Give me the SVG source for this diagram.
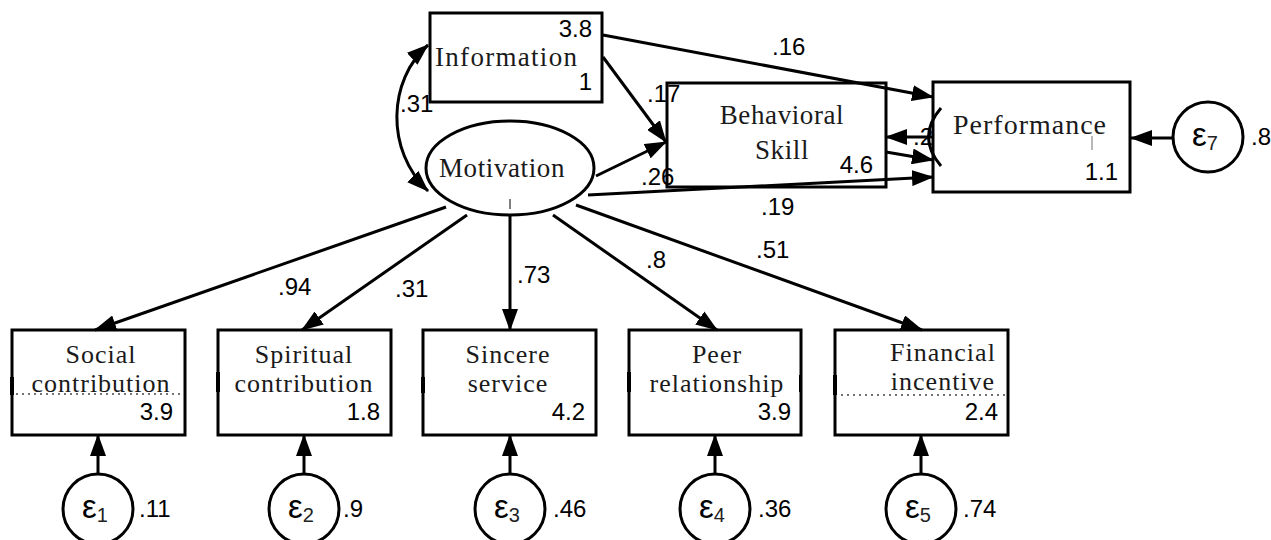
<svg xmlns="http://www.w3.org/2000/svg" width="1271" height="540" viewBox="0 0 1271 540">
<style>
.box{fill:#fff;stroke:#000;stroke-width:3}
.lat{fill:#fff;stroke:#000;stroke-width:3}
.nm{font-family:"Liberation Serif","Times New Roman",serif;font-size:27px;letter-spacing:0.6px;fill:#1a1a1a}
.sm{font-size:26px;letter-spacing:1px}
.big{font-size:28px;letter-spacing:1px}
.num{font-family:"Liberation Sans",Arial,sans-serif;font-size:24px;fill:#000}
.eps{font-family:"Liberation Sans",Arial,sans-serif;font-size:33px;fill:#000}
.sub{font-size:20px;fill:#222}
.ln{stroke:#000;stroke-width:3;fill:none}
.dot{stroke:#444;stroke-width:1.5;stroke-dasharray:2 4;fill:none}
.mk{fill:#000}
</style>
<defs>
<marker id="ah" markerUnits="userSpaceOnUse" markerWidth="22" markerHeight="16" refX="21" refY="8" orient="auto-start-reverse" viewBox="0 0 22 16">
<path d="M0,0 L22,8 L0,16 z" fill="#000"/>
</marker>
</defs>

<g id="information">
<rect class="box" x="430" y="13" width="172" height="89"/>
<text class="nm" x="435" y="66" style="font-size:27px;letter-spacing:1.3px">Information</text>
<text class="num" x="592" y="37" text-anchor="end">3.8</text>
<text class="num" x="592" y="90" text-anchor="end">1</text>
</g>

<g id="motivation">
<ellipse class="lat" cx="510" cy="168" rx="84" ry="47"/>
<text class="nm" x="502" y="177" text-anchor="middle">Motivation</text>
<line x1="510" y1="199" x2="510" y2="209" stroke="#555" stroke-width="1.5"/>
</g>

<g id="behavioral-skill">
<rect class="box" x="667" y="83" width="219" height="104"/>
<text class="nm" x="782" y="124" text-anchor="middle">Behavioral</text>
<text class="nm" x="782" y="159" text-anchor="middle">Skill</text>
<text class="num" x="873" y="173" text-anchor="end">4.6</text>
</g>

<g id="performance">
<text class="num" x="913" y="145">.26</text>
<rect class="box" x="933" y="82" width="197" height="110"/>
<text class="nm big" x="953" y="134">Performance</text>
<line x1="1092" y1="136" x2="1092" y2="150" stroke="#888" stroke-width="1.2"/>
<text class="num" x="1118" y="180" text-anchor="end">1.1</text>
<path class="ln" d="M941 108 Q916 137 941 166" stroke-width="2.5"/>
</g>

<g id="e7">
<circle class="lat" cx="1208" cy="137" r="35"/>
<text class="eps" x="1192" y="146">ε<tspan class="sub" dy="4">7</tspan></text>
<text class="num" x="1251" y="145">.8</text>
</g>

<g id="social">
<rect class="box" x="12" y="330" width="173" height="105"/>
<rect x="10" y="377" width="4" height="18" class="mk"/>
<text class="nm sm" x="101" y="363" text-anchor="middle">Social</text>
<text class="nm sm" x="101" y="392" text-anchor="middle">contribution</text>
<line class="dot" x1="16" y1="394" x2="182" y2="394"/>
<text class="num" x="173" y="420" text-anchor="end">3.9</text>
</g>

<g id="spiritual">
<rect class="box" x="218" y="330" width="173" height="105"/>
<rect x="216" y="372" width="4" height="20" class="mk"/>
<text class="nm sm" x="304" y="363" text-anchor="middle">Spiritual</text>
<text class="nm sm" x="304" y="392" text-anchor="middle">contribution</text>
<text class="num" x="380" y="420" text-anchor="end">1.8</text>
</g>

<g id="sincere">
<rect class="box" x="423" y="330" width="173" height="105"/>
<rect x="421" y="377" width="4" height="16" class="mk"/>
<text class="nm sm" x="508" y="363" text-anchor="middle">Sincere</text>
<text class="nm sm" x="508" y="392" text-anchor="middle">service</text>
<text class="num" x="585" y="420" text-anchor="end">4.2</text>
</g>

<g id="peer">
<rect class="box" x="629" y="330" width="172" height="105"/>
<rect x="627" y="372" width="4" height="20" class="mk"/>
<rect x="799" y="375" width="3" height="17" class="mk"/>
<text class="nm sm" x="717" y="363" text-anchor="middle">Peer</text>
<text class="nm sm" x="717" y="392" text-anchor="middle">relationship</text>
<text class="num" x="791" y="420" text-anchor="end">3.9</text>
</g>

<g id="financial">
<rect class="box" x="835" y="330" width="173" height="105"/>
<rect x="833" y="375" width="4" height="20" class="mk"/>
<text class="nm sm" x="943" y="361" text-anchor="middle">Financial</text>
<text class="nm sm" x="943" y="390" text-anchor="middle">incentive</text>
<line class="dot" x1="841" y1="395" x2="1005" y2="395"/>
<text class="num" x="998" y="420" text-anchor="end">2.4</text>
</g>

<g id="e1">
<circle class="lat" cx="98" cy="509" r="35"/>
<text class="eps" x="82" y="518">ε<tspan class="sub" dy="4">1</tspan></text>
<text class="num" x="139" y="517">.11</text>
</g>
<g id="e2">
<circle class="lat" cx="304" cy="509" r="35"/>
<text class="eps" x="288" y="518">ε<tspan class="sub" dy="4">2</tspan></text>
<text class="num" x="343" y="517">.9</text>
</g>
<g id="e3">
<circle class="lat" cx="510" cy="509" r="35"/>
<text class="eps" x="494" y="518">ε<tspan class="sub" dy="4">3</tspan></text>
<text class="num" x="553" y="517">.46</text>
</g>
<g id="e4">
<circle class="lat" cx="715" cy="509" r="35"/>
<text class="eps" x="699" y="518">ε<tspan class="sub" dy="4">4</tspan></text>
<text class="num" x="758" y="517">.36</text>
</g>
<g id="e5">
<circle class="lat" cx="921" cy="509" r="35"/>
<text class="eps" x="905" y="518">ε<tspan class="sub" dy="4">5</tspan></text>
<text class="num" x="963" y="517">.74</text>
</g>

<g id="connectors">
<path class="ln" d="M428 45 C388 80 385 150 428 191" marker-start="url(#ah)" marker-end="url(#ah)"/>
<text class="num" x="400" y="112">.31</text>
<line class="ln" x1="603" y1="57" x2="666" y2="142" marker-end="url(#ah)"/>
<text class="num" x="647" y="102">.17</text>
<line class="ln" x1="596" y1="176" x2="666" y2="142" marker-end="url(#ah)"/>
<text class="num" x="641" y="185">.26</text>
<line class="ln" x1="603" y1="35" x2="933" y2="97" marker-end="url(#ah)"/>
<text class="num" x="772" y="55">.16</text>
<line class="ln" x1="933" y1="137" x2="886" y2="137" marker-end="url(#ah)"/>
<line class="ln" x1="886" y1="152" x2="933" y2="160" marker-end="url(#ah)"/>
<line class="ln" x1="588" y1="195" x2="933" y2="177" marker-end="url(#ah)"/>
<text class="num" x="761" y="215">.19</text>
<line class="ln" x1="1173" y1="138" x2="1131" y2="138" marker-end="url(#ah)"/>

<line class="ln" x1="446" y1="207" x2="95" y2="330" marker-end="url(#ah)"/>
<text class="num" x="278" y="295">.94</text>
<line class="ln" x1="467" y1="215" x2="302" y2="330" marker-end="url(#ah)"/>
<text class="num" x="395" y="297">.31</text>
<line class="ln" x1="510" y1="216" x2="510" y2="330" marker-end="url(#ah)"/>
<text class="num" x="517" y="283">.73</text>
<line class="ln" x1="553" y1="215" x2="717" y2="330" marker-end="url(#ah)"/>
<text class="num" x="646" y="268">.8</text>
<line class="ln" x1="576" y1="205" x2="922" y2="330" marker-end="url(#ah)"/>
<text class="num" x="756" y="258">.51</text>

<line class="ln" x1="98" y1="474" x2="98" y2="435" marker-end="url(#ah)"/>
<line class="ln" x1="304" y1="474" x2="304" y2="435" marker-end="url(#ah)"/>
<line class="ln" x1="510" y1="474" x2="510" y2="435" marker-end="url(#ah)"/>
<line class="ln" x1="715" y1="474" x2="715" y2="435" marker-end="url(#ah)"/>
<line class="ln" x1="921" y1="474" x2="921" y2="435" marker-end="url(#ah)"/>
</g>
</svg>
